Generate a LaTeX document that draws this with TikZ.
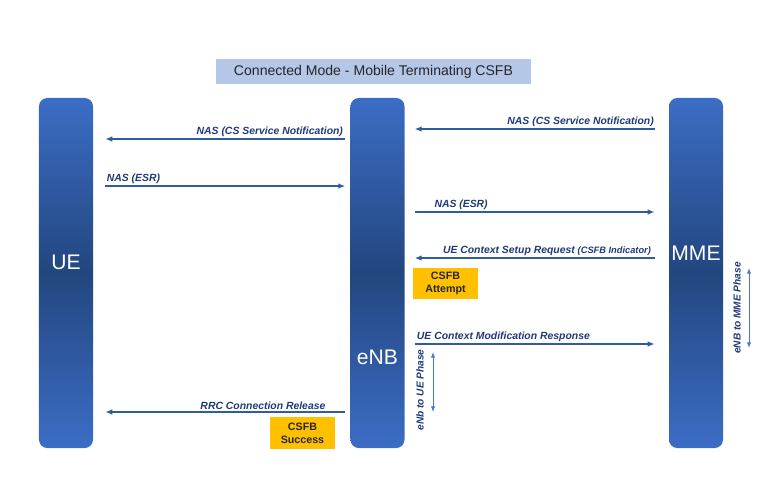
\documentclass[tikz,border=0pt]{standalone}
\usepackage{fontspec}
\setmainfont{Liberation Sans}
\usetikzlibrary{positioning,arrows.meta}

\definecolor{barlight}{HTML}{3C6DC5}
\definecolor{bardark}{HTML}{22467F}
\definecolor{msgline}{HTML}{2F5C9C}
\definecolor{msgtext}{HTML}{1F3A78}
\definecolor{phase}{HTML}{4A78C8}
\definecolor{titlefill}{HTML}{B4C7E7}
\definecolor{csfb}{HTML}{FFC000}

\begin{document}
\begin{tikzpicture}[x=0.025cm,y=-0.025cm,>={Latex[length=5pt,width=4pt]},
    bar/.style={rounded corners=6pt,minimum width=1.35cm,minimum height=8.75cm,
      top color=barlight,bottom color=barlight,middle color=bardark},
    barlabel/.style={text=white,font=\fontsize{15}{18}\selectfont},
    msg/.style={->,draw=msgline,line width=1.3pt},
    msglabel/.style={text=msgtext,font=\fontsize{7.4}{9}\selectfont\bfseries\itshape,inner sep=1pt},
    note/.style={fill=csfb,minimum width=1.62cm,minimum height=0.78cm,align=center,
      font=\fontsize{7.6}{9}\selectfont\bfseries,text=black!85,inner sep=0pt},
    phasearrow/.style={<->,draw=phase,line width=0.6pt,>={Latex[length=4pt,width=3pt]}},
    phaselabel/.style={text=msgtext,font=\fontsize{7.2}{9}\selectfont\bfseries\itshape,rotate=90}]

  \useasboundingbox (0,0) rectangle (768,476);

  % title
  \node[fill=titlefill,minimum width=7.88cm,minimum height=0.62cm,
        font=\fontsize{10}{12}\selectfont,text=black!85] (title) at (373.5,71.5)
        {Connected Mode - Mobile Terminating CSFB};

  % entities
  \node[bar] (ue)  at (66,273)    {};
  \node[bar] (enb) at (377.5,273) {};
  \node[bar] (mme) at (696,273)   {};
  \node[barlabel] (uelbl)  at (ue.center |- 0,262)  {UE};
  \node[barlabel] (enblbl) at (enb.center |- 0,357) {eNB};
  \node[barlabel] (mmelbl) at (mme.center |- 0,253) {MME};

  % eNB <-> UE
  \draw[msg,shorten <=3.5pt,shorten >=8.5pt] (enb.west |- 0,139) -- (ue.east |- 0,139)
    node[msglabel,above left,pos=0,xshift=-3.5pt] {NAS (CS Service Notification)};
  \draw[msg,shorten <=8.5pt,shorten >=3.5pt] (ue.east |- 0,186) -- (enb.west |- 0,186)
    node[msglabel,above right,pos=0,xshift=8pt] {NAS (ESR)};
  \draw[msg,shorten <=3.5pt,shorten >=8.5pt] (enb.west |- 0,412) -- (ue.east |- 0,412)
    node[msglabel,above left,pos=0,xshift=-16pt] {RRC Connection Release};

  % MME <-> eNB
  \draw[msg,shorten <=10pt,shorten >=7pt] (mme.west |- 0,129) -- (enb.east |- 0,129)
    node[msglabel,above left,pos=0,xshift=-9pt] {NAS (CS Service Notification)};
  \draw[msg,shorten <=7pt,shorten >=10pt] (enb.east |- 0,212) -- (mme.west |- 0,212)
    node[msglabel,above right,pos=0,xshift=19.5pt] {NAS (ESR)};
  \draw[msg,shorten <=10pt,shorten >=7pt] (mme.west |- 0,258) -- (enb.east |- 0,258)
    node[msglabel,above left,pos=0,xshift=-11pt] {UE Context Setup Request {\fontsize{6.6}{8}\selectfont(CSFB Indicator)}};
  \draw[msg,shorten <=7.5pt,shorten >=10pt] (enb.east |- 0,344) -- (mme.west |- 0,344)
    node[msglabel,above right,pos=0,xshift=7pt] {UE Context Modification Response};

  % CSFB states
  \node[note] (attempt) at (445.5,283.5) {CSFB\\Attempt};
  \node[note] (success) at (302.5,433)   {CSFB\\Success};

  % phases
  \coordinate (enbtop) at (433,352);
  \coordinate (enbbot) at (433,412);
  \draw[phasearrow] (enbtop) -- (enbbot);
  \node[phaselabel] (enbphase) at (420,390) {eNb to UE Phase};
  \coordinate (mmetop) at (749,268);
  \coordinate (mmebot) at (749,348);
  \draw[phasearrow] (mmetop) -- (mmebot);
  \node[phaselabel] (mmephase) at (737,308) {eNB to MME Phase};
\end{tikzpicture}
\end{document}
